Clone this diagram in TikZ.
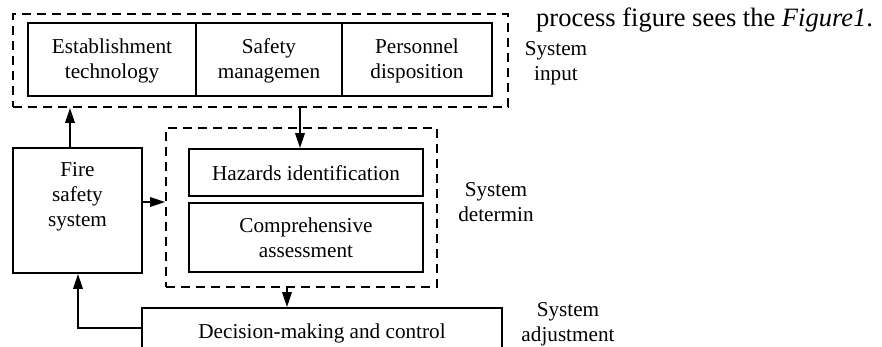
\documentclass[tikz,border=0pt]{standalone}
\usepackage{fontspec}
\setmainfont{Liberation Serif}
\usetikzlibrary{arrows.meta}
\tikzset{
  box/.style={draw, line width=1.8pt, inner sep=0pt},
  dbox/.style={draw, line width=1.8pt, dash pattern=on 9pt off 6pt, inner sep=0pt},
  lbl/.style={align=center, inner sep=0pt, font=\fontsize{21.2}{25}\selectfont},
  arr/.style={line width=1.8pt, -{Triangle[length=15pt,width=9.5pt]}},
}
\begin{document}
\begin{tikzpicture}[x=1pt,y=-1pt]
\useasboundingbox (0,0) rectangle (882,346);
\clip (0,0) rectangle (882,346);
% system input
\node[dbox, minimum width=495pt, minimum height=93pt] (inp) at (260.5,60.5) {};
\node[box, minimum width=168pt, minimum height=73pt] (est) at (112,59.5) {};
\node[box, minimum width=146pt, minimum height=73pt] (saf) at (269,59.5) {};
\node[box, minimum width=150pt, minimum height=73pt] (per) at (417,59.5) {};
\node[lbl] (estt) at (112,61) {Establishment\\technology};
\node[lbl] (saft) at (269,61) {Safety\\managemen};
\node[lbl] (pert) at (417,61) {Personnel\\disposition};
\node[lbl] (sysin) at (556,63) {System\\input};
% fire safety system
\node[box, minimum width=129pt, minimum height=125pt] (fire) at (77.5,210.5) {};
\node[lbl] (firet) at (77.5,197) {Fire\\safety\\system};
% system determination
\node[dbox, minimum width=271pt, minimum height=159pt] (det) at (301.5,207.5) {};
\node[box, minimum width=234pt, minimum height=47pt] (haz) at (306,172.5) {};
\node[lbl] (hazt) at (306,173) {Hazards identification};
\node[box, minimum width=234pt, minimum height=69pt] (comp) at (306,237.5) {};
\node[lbl] (compt) at (306,238) {Comprehensive\\assessment};
\node[lbl] (sysdet) at (496,202) {System\\determin};
% decision
\node[box, minimum width=360pt, minimum height=60pt] (dec) at (322,338) {};
\node[lbl, anchor=base] (dect) at (322,338) {Decision-making and control};
\node[lbl] (sysadj) at (568,324) {System\\adjustment};
% caption text
\node[inner sep=0pt, anchor=base west, font=\fontsize{26.5}{30}\selectfont] (cap) at (536,26) {process figure sees the \textit{Figure1}.};
% connectors
\coordinate (upx) at (70,0);
\coordinate (dnx) at (300,0);
\coordinate (ry) at (0,202);
\coordinate (d2x) at (287,0);
\coordinate (fby) at (0,328);
\coordinate (fbx) at (78,0);
\draw[arr] (fire.north -| upx) -- (inp.south -| upx);
\draw[arr] (inp.south -| dnx) -- (haz.north -| dnx);
\draw[arr] (fire.east |- ry) -- (det.west |- ry);
\draw[arr] (det.south -| d2x) -- (dec.north -| d2x);
\draw[arr] (dec.west |- fby) -| (fire.south -| fbx);
\end{tikzpicture}
\end{document}
